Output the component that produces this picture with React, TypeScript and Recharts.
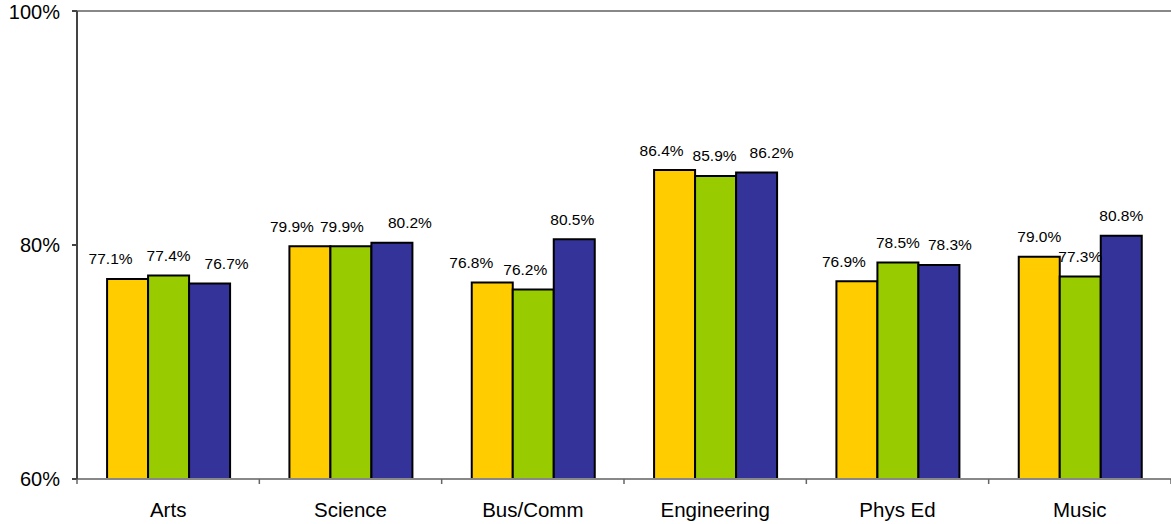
import React from 'react';
import { BarChart, Bar, XAxis, YAxis, ReferenceLine, LabelList } from 'recharts';

const categories = ['Arts', 'Science', 'Bus/Comm', 'Engineering', 'Phys Ed', 'Music'];
const seriesA = [77.1, 79.9, 76.8, 86.4, 76.9, 79.0];
const seriesB = [77.4, 79.9, 76.2, 85.9, 78.5, 77.3];
const seriesC = [76.7, 80.2, 80.5, 86.2, 78.3, 80.8];
const yTicks = [60, 80, 100];

// label horizontal nudges (style only), per series per category
const nudgeA = [-17, -18, -21, -13, -13, 0];
const nudgeB = [0, -9, -8, -1, 0, 0];
const nudgeC = [17, 18, -2, 15, 11, 0];

const data = categories.map((c, i) => ({ name: c, a: seriesA[i], b: seriesB[i], c: seriesC[i] }));

const WIDTH = 1171;
const HEIGHT = 524;
const Y_W = 77;
const BAND = (WIDTH - Y_W) / categories.length;
const FONT = '"Liberation Sans", Arial, sans-serif';

const makeLabel = (nudge: number[]) => (props: any) => {
  const { x, y, width, value, index } = props;
  return (
    <text
      x={Number(x) + Number(width) / 2 + nudge[index]}
      y={Number(y) - 14.6}
      textAnchor="middle"
      fontSize={15.5}
      fontFamily={FONT}
      fill="#000"
    >
      {`${Number(value).toFixed(1)}%`}
    </text>
  );
};

const XTick = (props: any) => {
  const { x, y, payload, index } = props;
  const half = BAND / 2;
  return (
    <g>
      <line x1={x - half} x2={x - half} y1={y - 5} y2={y} stroke="#666" strokeWidth={1.5} />
      {index === categories.length - 1 && (
        <line x1={x + half} x2={x + half} y1={y - 5} y2={y} stroke="#666" strokeWidth={1.5} />
      )}
      <text x={x} y={y + 33} textAnchor="middle" fontSize={20.5} fontFamily={FONT} fill="#000">
        {payload.value}
      </text>
    </g>
  );
};

export default function App() {
  return (
    <div style={{ position: 'absolute', left: 0, top: 0, background: '#fff' }}>
      <BarChart
        width={WIDTH}
        height={HEIGHT}
        data={data}
        margin={{ top: 11, right: 0, bottom: 0, left: 0 }}
        barCategoryGap="16.5%"
        barGap={0}
      >
        <ReferenceLine y={100} stroke="#888" strokeWidth={2} />
        <XAxis
          dataKey="name"
          height={45}
          stroke="#888"
          strokeWidth={2}
          tickLine={false}
          tickSize={5}
          tickMargin={0}
          tick={<XTick />}
          interval={0}
        />
        <YAxis
          width={Y_W}
          domain={[60, 100]}
          ticks={yTicks}
          allowDataOverflow
          stroke="#444"
          strokeWidth={2}
          tickSize={5}
          tickMargin={12}
          tickFormatter={(v: number) => `${v}%`}
          tick={{ fill: '#000', fontSize: 20, fontFamily: FONT }}
        />
        <Bar dataKey="a" fill="#FFCC00" stroke="#000" strokeWidth={2} isAnimationActive={false}>
          <LabelList dataKey="a" content={makeLabel(nudgeA)} />
        </Bar>
        <Bar dataKey="b" fill="#99CC00" stroke="#000" strokeWidth={2} isAnimationActive={false}>
          <LabelList dataKey="b" content={makeLabel(nudgeB)} />
        </Bar>
        <Bar dataKey="c" fill="#333399" stroke="#000" strokeWidth={2} isAnimationActive={false}>
          <LabelList dataKey="c" content={makeLabel(nudgeC)} />
        </Bar>
      </BarChart>
    </div>
  );
}
